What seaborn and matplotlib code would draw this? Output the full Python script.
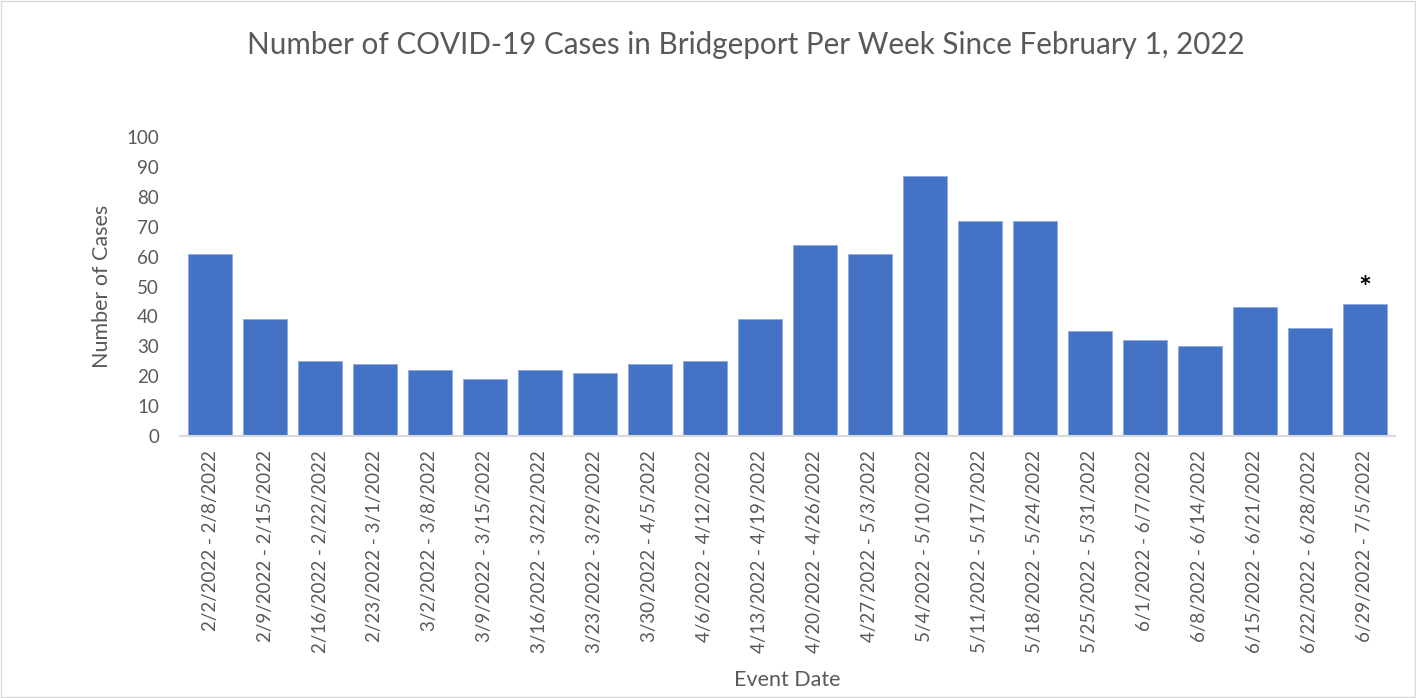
import matplotlib
matplotlib.use("Agg")
import matplotlib.pyplot as plt
import seaborn as sns
import pandas as pd

# weekly ranges and case counts
weeks = ["2/2/2022 - 2/8/2022", "2/9/2022 - 2/15/2022", "2/16/2022 - 2/22/2022",
         "2/23/2022 - 3/1/2022", "3/2/2022 - 3/8/2022", "3/9/2022 - 3/15/2022",
         "3/16/2022 - 3/22/2022", "3/23/2022 - 3/29/2022", "3/30/2022 - 4/5/2022",
         "4/6/2022 - 4/12/2022", "4/13/2022 - 4/19/2022", "4/20/2022 - 4/26/2022",
         "4/27/2022 - 5/3/2022", "5/4/2022 - 5/10/2022", "5/11/2022 - 5/17/2022",
         "5/18/2022 - 5/24/2022", "5/25/2022 - 5/31/2022", "6/1/2022 - 6/7/2022",
         "6/8/2022 - 6/14/2022", "6/15/2022 - 6/21/2022", "6/22/2022 - 6/28/2022",
         "6/29/2022 - 7/5/2022"]
cases = [61, 39, 25, 24, 22, 19, 22, 21, 24, 25, 39, 64, 61, 87, 72, 72, 35, 32, 30, 43, 36, 44]
yticks = list(range(0, 101, 10))

sns.set_style("white")
plt.rcParams['font.family'] = ['Lato', 'DejaVu Sans']
grey = "#595959"

df = pd.DataFrame({"week": weeks, "cases": cases})

fig = plt.figure(figsize=(14.16, 6.98), dpi=100)
ax = fig.add_axes([0.127, 0.375, 0.858, 0.429])
sns.barplot(data=df, x="week", y="cases", color="#4472C4", saturation=1,
            width=0.8, edgecolor="#8FAADC", linewidth=0.6, ax=ax)

ax.set_ylim(0, 100)
ax.set_xlim(-0.55, len(weeks) - 0.45)
ax.set_yticks(yticks)
ax.set_yticklabels([str(t) for t in yticks], fontsize=13.5, color=grey)
ax.set_xticks(range(len(weeks)))
ax.set_xticklabels(weeks, rotation=90, fontsize=13.5, color=grey)
ax.tick_params(axis="y", length=0, pad=15)
ax.tick_params(axis="x", length=0, pad=10)

for s in ["top", "right", "left"]:
    ax.spines[s].set_visible(False)
ax.spines["bottom"].set_color("#D9D9D9")
ax.spines["bottom"].set_linewidth(1.5)

ax.set_xlabel("Event Date", fontsize=15.5, color=grey, labelpad=12)
ax.set_ylabel("Number of Cases", fontsize=15.5, color=grey, labelpad=10)

# partial-week marker on the last bar
ax.text(len(weeks) - 1, cases[-1] + 0.5, "*", ha="center", va="bottom", fontsize=22,
        fontweight="bold", color="black")

fig.suptitle("Number of COVID-19 Cases in Bridgeport Per Week Since February 1, 2022",
             fontsize=21.3, color=grey, x=0.527, y=0.955)

# thin border round the whole chart
fig.patches.append(plt.Rectangle((0.001, 0.001), 0.998, 0.997, transform=fig.transFigure,
                                 fill=False, edgecolor="#D9D9D9", linewidth=1))

fig.savefig("out.png", dpi=100)
